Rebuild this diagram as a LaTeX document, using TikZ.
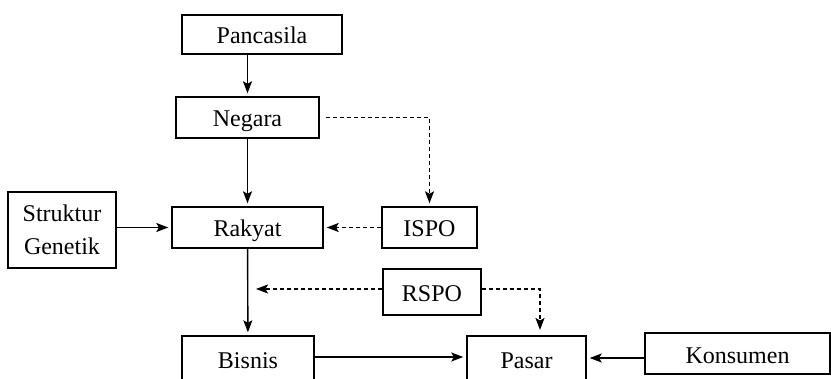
\documentclass[tikz,border=0pt]{standalone}
\usepackage{fontspec}
\setmainfont{Liberation Serif}
\usetikzlibrary{arrows.meta}

\tikzset{
	kotak/.style={draw, line width=1.4pt, inner sep=0pt, minimum height=41pt,
		text height=23pt, text depth=4pt,
		font=\fontsize{24}{33}\selectfont},
	panah/.style={line width=1.4pt, -{Stealth[length=12pt, width=9pt, inset=2.5pt]}, shorten >=3pt},
	putus/.style={panah, dash pattern=on 4pt off 3pt}
}

\begin{document}
\begin{tikzpicture}[x=1pt, y=1pt]
	\def\W{831}
	\def\H{378}
	\useasboundingbox (0, 0) rectangle (\W, \H);
	\clip (0, 0) rectangle (\W, \H);
	
	%Kotak
	\node[kotak, minimum width=160pt, minimum height=39pt] (pancasila) at (262, 343.5) {Pancasila};
	\node[kotak, minimum width=143pt] (negara) at (247.5, 260.5) {Negara};
	\node[kotak, minimum width=151pt] (rakyat) at (247.5, 150.5) {Rakyat};
	\node[kotak, minimum width=108pt, minimum height=76pt, align=center,
		text height=, text depth=] (struktur) at (62, 148) {Struktur\\Genetik};
	\node[kotak, minimum width=95pt] (ispo) at (429.5, 150.5) {ISPO};
	\node[kotak, minimum width=98pt, minimum height=46pt] (rspo) at (432, 86) {RSPO};
	\node[kotak, minimum width=132pt, minimum height=46pt] (bisnis) at (248, 19) {Bisnis};
	\node[kotak, minimum width=119pt, minimum height=46pt] (pasar) at (526.5, 19) {Pasar};
	\node[kotak, minimum width=185pt] (konsumen) at (737.5, 24.5) {Konsumen};
	
	%Ujung garis putus
	\coordinate (rspoL) at (256, 89);
	\coordinate (rspoR) at (540, 48);
	
	%Panah
	\draw[panah] (pancasila.south -| negara) -- (negara);
	\draw[panah] (negara) -- (rakyat);
	\draw[panah] (rakyat) -- (bisnis);
	\draw[panah] (struktur.east |- rakyat) -- (rakyat);
	\draw[panah] (bisnis.east |- 0, 21) -- (pasar.west |- 0, 21);
	\draw[panah] (konsumen.west |- 0, 20) -- (pasar.east |- 0, 20);
	
	%Garis putus
	\draw[putus] ([xshift=6pt]negara.east) -| (ispo.north);
	\draw[putus] (ispo) -- (rakyat);
	\draw[putus, shorten >=0pt] (rspo.west |- rspoL) -- (rspoL);
	\draw[putus, shorten >=0pt] (rspo.east |- rspoL) -| (rspoR);
	
\end{tikzpicture}
\end{document}
